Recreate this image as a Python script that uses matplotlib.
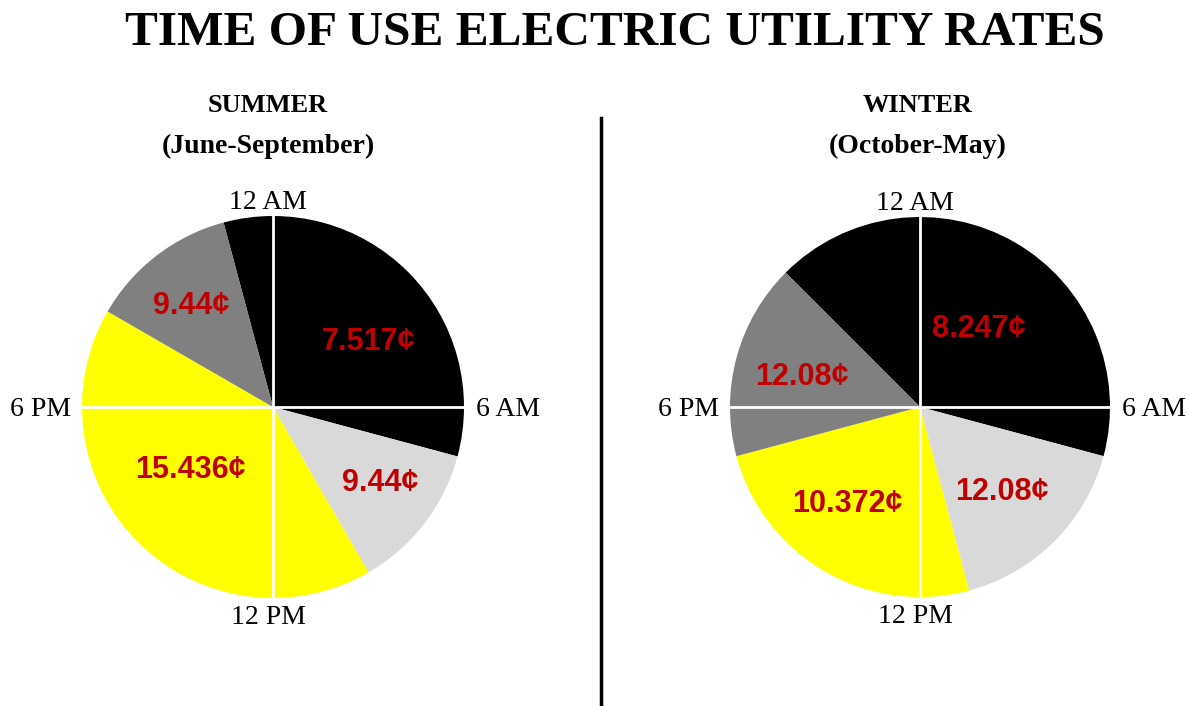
import matplotlib
matplotlib.use("Agg")
import matplotlib.pyplot as plt

# Hours covered by each rate period, going clockwise from the first period start
periods = ["off-peak", "shoulder AM", "peak", "shoulder PM"]
colors = ["#000000", "#D9D9D9", "#FFFF00", "#808080"]

summer_hours = [8, 3, 10, 3]        # 11PM-7AM, 7AM-10AM, 10AM-8PM, 8PM-11PM
summer_rates = ["7.517¢", "9.44¢", "15.436¢", "9.44¢"]
summer_start = 23                   # 11 PM

winter_hours = [10, 4, 6, 4]        # 9PM-7AM, 7AM-11AM, 11AM-5PM, 5PM-9PM
winter_rates = ["8.247¢", "12.08¢", "10.372¢", "12.08¢"]
winter_start = 21                   # 9 PM

clock_labels = ["12 AM", "6 AM", "12 PM", "6 PM"]

W, H = 1188, 706
fig = plt.figure(figsize=(W / 100, H / 100), dpi=100)
ax = fig.add_axes([0, 0, 1, 1])

serif = "Liberation Serif"
red = "#C00000"


def draw_clock_pie(cx, cy, r, hours, rates, start_hour, label_offsets):
    """ Draws one 24h pie with the rate labels and the clock marks. """
    # hour 0 (12 AM) is at the top, clock runs clockwise
    start = 90 + (24 - start_hour) * 15
    ax.pie(hours, colors=colors, startangle=start, counterclock=False,
           center=(cx, cy), radius=r, frame=True,
           wedgeprops=dict(linewidth=0))
    # white cross
    ax.plot([cx - r, cx + r], [cy, cy], color="white", lw=2, zorder=3)
    ax.plot([cx, cx], [cy - r, cy + r], color="white", lw=2, zorder=3)
    for txt, (dx, dy) in zip(rates, label_offsets):
        ax.text(cx + dx * r, cy + dy * r, txt, color=red, fontsize=22,
                fontweight="bold", family="Liberation Sans",
                ha="center", va="center", zorder=4)
    kw = dict(family=serif, fontsize=20, color="black", zorder=4)
    ax.text(cx - 5, cy + r + 1, clock_labels[0], ha="center", va="bottom", **kw)
    ax.text(cx + r + 12, cy - 2, clock_labels[1], ha="left", va="center", **kw)
    ax.text(cx - 5, cy - r - 7, clock_labels[2], ha="center", va="top", **kw)
    ax.text(cx - r - 11, cy - 2, clock_labels[3], ha="right", va="center", **kw)


draw_clock_pie(273, H - 407, 191, summer_hours, summer_rates, summer_start,
               [(0.50, 0.34), (0.56, -0.40), (-0.43, -0.33), (-0.43, 0.53)])
draw_clock_pie(920, H - 407, 190, winter_hours, winter_rates, winter_start,
               [(0.31, 0.41), (0.43, -0.45), (-0.38, -0.51), (-0.62, 0.16)])

ax.set_xlim(0, W)
ax.set_ylim(0, H)
ax.set_aspect("equal")
ax.axis("off")

# titles
ax.text(615, H - 33, "TIME OF USE ELECTRIC UTILITY RATES", family=serif,
        fontweight="bold", fontsize=35.5, ha="center", va="center")
ax.text(268, H - 105, "SUMMER", family=serif, fontweight="bold", fontsize=19,
        ha="center", va="center")
ax.text(268, H - 146, "(June-September)", family=serif, fontweight="bold",
        fontsize=20, ha="center", va="center")
ax.text(918, H - 105, "WINTER", family=serif, fontweight="bold", fontsize=19,
        ha="center", va="center")
ax.text(918, H - 146, "(October-May)", family=serif, fontweight="bold",
        fontsize=20, ha="center", va="center")

# divider
ax.plot([601, 601], [0, H - 118], color="black", lw=2.5)

fig.savefig("out.png", dpi=100)
